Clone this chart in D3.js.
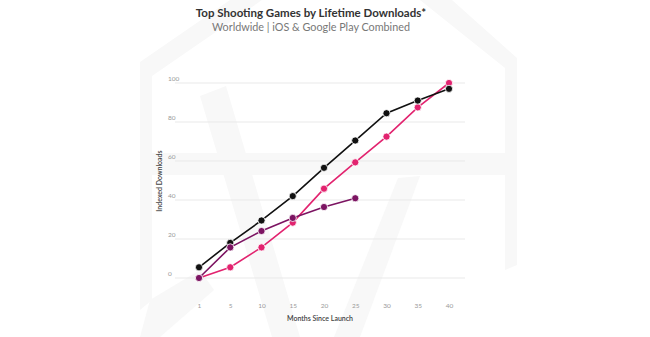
<!DOCTYPE html>
<html><head><meta charset="utf-8">
<script src="https://cdn.jsdelivr.net/npm/d3@7"></script>
<style>body{margin:0;background:#fff}svg{display:block}</style>
</head><body>
<svg id="c" width="650" height="337"></svg>
<script>
const months = ["1","5","10","15","20","25","30","35","40"];
const gameA = [5.5, 18, 29.5, 42, 56.5, 70.5, 84.5, 91, 97];
const gameB = [0, 5.5, 15.7, 28.4, 45.8, 59.3, 72.5, 87.5, 100];
const gameC = [0, 15.7, 24.1, 30.8, 36.4, 40.9];
const yTicks = [0, 20, 40, 60, 80, 100];
const title = "Top Shooting Games by Lifetime Downloads*";
const subtitle = "Worldwide | iOS & Google Play Combined";

const svg = d3.select("#c");
// faint watermark
const wm = svg.append("g").attr("fill", "#f8f8f8");
const polys = [
  [[140,62],[230,0],[262,0],[152,76],[152,300],[140,310]],
  [[420,0],[452,0],[517,58],[517,265],[505,270],[505,68]],
  [[140,153],[517,153],[517,175],[140,175]],
  [[200,96],[226,86],[300,337],[272,337]],
  [[398,178],[420,176],[360,337],[334,337]],
  [[150,300],[200,270],[214,290],[160,337],[140,337]]
];
polys.forEach(p => wm.append("polygon").attr("points", p.map(d=>d.join(",")).join(" ")));

const x = d3.scalePoint().domain(months).range([199, 449]);
const y = d3.scaleLinear().domain([0, 100]).range([278, 83]);

// gridlines
svg.append("g").selectAll("line").data(yTicks).join("line")
  .attr("x1", 175).attr("x2", 465)
  .attr("y1", d => y(d)).attr("y2", d => y(d))
  .attr("stroke", "#e9e9e9").attr("stroke-width", 1);

// y labels
svg.append("g").selectAll("text").data(yTicks).join("text")
  .attr("x", 168).attr("y", d => y(d) - 2)
  .attr("font-family", "Lato, sans-serif").attr("font-size", 6.5)
  .attr("fill", "#999").text(d => d);

// x axis labels
const xa = svg.append("g").attr("transform", "translate(0,303)")
  .call(d3.axisBottom(x).tickSize(0).tickPadding(0));
xa.select(".domain").remove();
xa.selectAll("text").attr("font-family", "Lato, sans-serif").attr("font-size", 6.5).attr("fill", "#999");

// axis titles
svg.append("text").attr("x", 320).attr("y", 321).attr("text-anchor", "middle")
  .attr("font-family", "Lato, sans-serif").attr("font-size", 7).attr("font-weight", 600)
  .attr("fill", "#444").text("Months Since Launch");
svg.append("text").attr("transform", "translate(162,181) rotate(-90)").attr("text-anchor", "middle")
  .attr("font-family", "Lato, sans-serif").attr("font-size", 7).attr("font-weight", 600)
  .attr("fill", "#444").text("Indexed Downloads");

// titles
svg.append("text").attr("x", 311).attr("y", 17).attr("text-anchor", "middle")
  .attr("font-family", "Lato, sans-serif").attr("font-size", 11.5).attr("font-weight", 700)
  .attr("fill", "#333").text(title);
svg.append("text").attr("x", 311).attr("y", 31).attr("text-anchor", "middle")
  .attr("font-family", "Lato, sans-serif").attr("font-size", 10.8)
  .attr("fill", "#777").text(subtitle);

const series = [
  {vals: gameB, color: "#e2236f"},
  {vals: gameA, color: "#111111"},
  {vals: gameC, color: "#7c1462"}
];
const line = d3.line().x((d,i) => x(months[i])).y(d => y(d));
series.forEach(s => {
  const g = svg.append("g");
  g.append("path").datum(s.vals).attr("d", line)
    .attr("fill", "none").attr("stroke", s.color).attr("stroke-width", 1.6);
  g.selectAll("circle").data(s.vals).join("circle")
    .attr("cx", (d,i) => x(months[i])).attr("cy", d => y(d)).attr("r", 3.6)
    .attr("fill", s.color).attr("stroke", "#fff").attr("stroke-width", 0.8);
});
</script>
</body></html>
